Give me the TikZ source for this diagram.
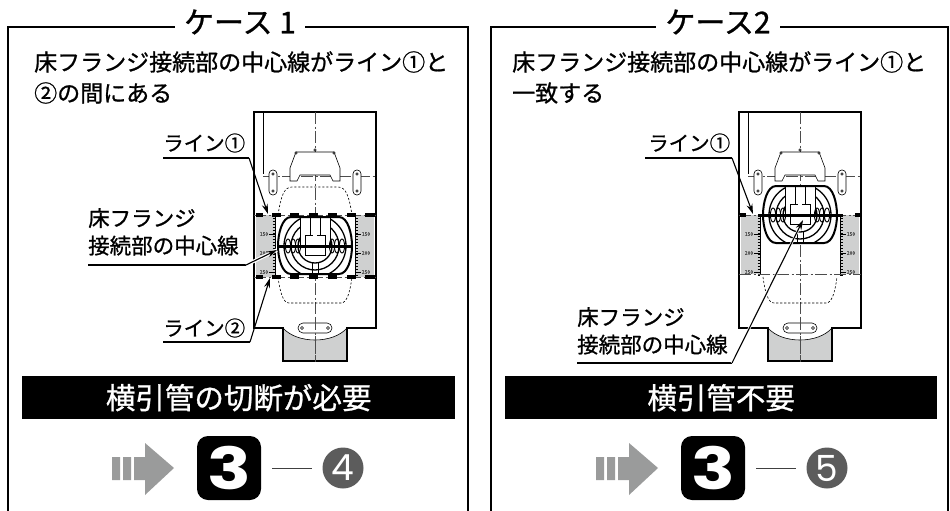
\documentclass[tikz,border=0pt]{standalone}
\usepackage{fontspec}
\setmainfont{Noto Sans CJK JP}[FakeBold=0.9]
\newfontfamily\numfont{Poppins}
\usetikzlibrary{arrows.meta}
\definecolor{bandgray}{HTML}{CFD0D0}
\definecolor{arrowgray}{HTML}{9A9B9B}
\definecolor{circgray}{HTML}{5C5C5C}
\newcommand{\fs}[1]{\fontsize{#1}{#1}\selectfont}
\tikzset{
  frameline/.style={line width=1.6pt,black},
  heading/.style={font=\fs{30},fill=white,inner xsep=9pt,inner ysep=0pt,anchor=center},
  bodytext/.style={font=\fs{23},anchor=west,inner sep=0pt},
  calltext/.style={font=\fs{20.5},anchor=west,inner sep=0pt,align=left},
  longtext/.style={font=\fs{21.5},anchor=north west,inner sep=0pt,align=left},
  leader/.style={line width=1.1pt,black,-{Stealth[length=10pt,width=6pt]}},
  underln/.style={line width=1.1pt,black},
  halo/.style={line width=3.5pt,white},
  barbox/.style={fill=black,text=white,font=\fs{29.5},minimum height=43pt,inner sep=0pt,anchor=north west},
  centerline/.style={line width=0.7pt,black!70,dash pattern=on 12pt off 2.5pt on 2pt off 2.5pt},
  wall/.style={line width=2pt,black},
  fine/.style={line width=0.6pt,black},
  scalelab/.style={font=\fs{5},text=black!70,inner sep=0pt,anchor=center},
  numbox/.style={fill=black,rounded corners=11pt,text=white,minimum width=64pt,minimum height=64pt,inner sep=0pt,anchor=center},
  numcirc/.style={circle,fill=circgray,text=white,minimum size=41pt,inner sep=0pt,anchor=center},
  flangeline/.style={line width=1.3pt,black},
}
\def\flangepath{(-37,0) .. controls (-37,-12) and (-33,-29) .. (-24,-29) -- (24,-29) .. controls (33,-29) and (37,-12) .. (37,0) .. controls (37,12) and (33,28) .. (24,28) -- (-24,28) .. controls (-33,28) and (-37,12) .. (-37,0) -- cycle}
% ---- body of the fixture, x offset from the left case
\newcommand{\fixture}[1]{%
 \begin{scope}[shift={(#1,0)}]
  \fill[bandgray] (256,215) rectangle (275,\bandbot);
  \fill[bandgray] (355,215) rectangle (374,\bandbot);
  \fill[bandgray] (283,328) .. controls (297,344) and (333,344) .. (347,328) -- (347,361) -- (283,361) -- cycle;
  \draw[wall] (283,328) -- (254,328) -- (254,112) -- (376,112) -- (376,328) -- (347,328) -- (347,361) -- (283,361) -- cycle;
  \draw[fine] (283,328) .. controls (297,344) and (333,344) .. (347,328);
  \draw[fine] (263,112) -- (263,174);
  \draw[centerline] (315,112) -- (315,362);
  \draw[centerline] (263,176) -- (376,176);
  % tank
  \draw[fine,fill=white] (290,181) -- (290,168) -- (296,152) -- (334,152) -- (340,168) -- (340,181) -- (333,181) -- (330,175) -- (300,175) -- (297,181) -- cycle;
  \foreach \cx/\cy in {296/153,334/153,315/150}{\draw[fine,fill=white] (\cx,\cy) circle[radius=1.2];}
  % slots
  \foreach \sx in {273,357}{
    \draw[fine,fill=white,rounded corners=3.8pt] (\sx-4,170) rectangle (\sx+4,195);
    \draw[fine] (\sx,174) circle[radius=1.3] (\sx,191) circle[radius=1.3];
  }
  % bottom slot
  \draw[fine,fill=white,rounded corners=5pt] (298,323) rectangle (332,333);
  \draw[fine] (302,328) circle[radius=1.5] (328,328) circle[radius=1.5];
  \draw[centerline] (315,318) -- (315,362);
  % dashed outline
  \draw[fine,dash pattern=on 2.2pt off 1.8pt] (278,215) .. controls (281,196) and (284,187) .. (292,187) -- (338,187) .. controls (346,187) and (349,196) .. (352,215);
  \draw[fine,dash pattern=on 2.2pt off 1.8pt] (278,277) .. controls (280,292) and (283,303) .. (289,303) -- (341,303) .. controls (347,303) and (350,292) .. (352,277);
  % rulers
  \draw[line width=0.8pt] (275,215) -- (275,\bandbot) (355,215) -- (355,\bandbot);
  \foreach \ty in {218,221,...,275}{
    \draw[line width=0.4pt] (272.5,\ty) -- (275,\ty) (355,\ty) -- (357.5,\ty);
  }
  \foreach \ty/\tl in {234/150,253/200,272/250}{
    \draw[fine] (269,\ty) -- (275,\ty) (355,\ty) -- (361,\ty);
    \node[scalelab,fill=bandgray] at (264,\ty) {\tl};
    \node[scalelab,fill=bandgray] at (366,\ty) {\tl};
  }
 \end{scope}}
% ---- flange
\newcommand{\flange}[2]{%
 \begin{scope}[shift={(#1,#2)}]
  \fill[white] \flangepath;
  \begin{scope}
   \clip \flangepath;
   \draw[flangeline] (0,0) circle[radius=31] (0,0) circle[radius=24] (0,0) circle[radius=17];
   \fill[white] (-15,-30) rectangle (15,0);
  \end{scope}
  \draw[line width=1pt] (-15,-29) -- (-15,0) (15,-29) -- (15,0);
  \draw[line width=1pt] (-5,-29) -- (-5,-11) (5,-29) -- (5,-11);
  \draw[line width=1pt] (-10,0) -- (-10,-11) -- (-2,-11) (2,-11) -- (10,-11) -- (10,0);
  \draw[line width=0.8pt,fill=white] (-10,0) rectangle (10,9);
  \draw[line width=1pt] (-3,17) -- (-3,28) (3,17) -- (3,28);
  \foreach \ex in {-27,-22,-17,17,22,27}{\draw[line width=0.9pt] (\ex,0) ellipse[x radius=2.6,y radius=7];}
  \draw[line width=2pt] \flangepath;
 \end{scope}}
\begin{document}
\begin{tikzpicture}[x=1pt,y=-1pt]
\useasboundingbox (0,0) rectangle (950,511);
\fill[white] (0,0) rectangle (950,511);
% ================ frames
\draw[frameline] (8,511) -- (8,27) -- (468,27) -- (468,511);
\draw[frameline] (491,511) -- (491,27) -- (948,27) -- (948,511);
\node[heading] (titleA) at (240,22) {ケース 1};
\node[heading] (titleB) at (718,22) {ケース2};
\node[bodytext] (bodyA1) at (34,62) {床フランジ接続部の中心線がライン①と};
\node[bodytext] (bodyA2) at (34,93) {②の間にある};
\node[bodytext] (bodyB1) at (512,62) {床フランジ接続部の中心線がライン①と};
\node[bodytext] (bodyB2) at (512,93) {一致する};
% ================ case 1 fixture
\def\bandbot{277}
\fixture{0}
\flange{315}{246}
\draw[centerline] (254,215) -- (376,215) (254,277) -- (376,277);
\foreach \ax/\bx in {256/263,272/281,290/299,309/318,328/337,347/356,365/375}{
  \draw[line width=3.4pt] (\ax,215) -- (\bx,215);
  \draw[line width=3.4pt] (\ax,277) -- (\bx,277);
}
\draw[line width=3pt] (277,246) -- (353,246);
% ================ case 2 fixture
\def\bandbot{274}
\fixture{485}
\flange{800}{215}
\draw[centerline,line width=1pt] (739,274) -- (861,274);
\draw[centerline] (739,215) -- (861,215);
\draw[line width=3.4pt] (740,215) -- (746,215) (855,215) -- (861,215);
\draw[line width=3pt] (758,215) -- (843,215);
% ================ call-outs, case 1
\node[calltext] (lineA1) at (163,143) {ライン①};
\coordinate (lineA1s) at (163,158);
\coordinate (lineA1k) at (249,158);
\coordinate (lineA1t) at (268,214);
\draw[underln] (lineA1s) -- (lineA1k);
\draw[leader] (lineA1k) -- (lineA1t);
\node[longtext] (flA) at (88,208) {床フランジ\\[6pt]接続部の中心線};
\coordinate (flAs) at (88,265);
\coordinate (flAk) at (246,265);
\coordinate (flAt) at (277,250);
\draw[underln] (flAs) -- (flAk);
\draw[halo] (flAk) -- (flAt);
\draw[leader] (flAk) -- (flAt);
\node[calltext] (lineA2) at (163,328) {ライン②};
\coordinate (lineA2s) at (163,342);
\coordinate (lineA2k) at (250,342);
\coordinate (lineA2t) at (270,278);
\draw[underln] (lineA2s) -- (lineA2k);
\draw[leader] (lineA2k) -- (lineA2t);
% ================ call-outs, case 2
\node[calltext] (lineB1) at (648,143) {ライン①};
\coordinate (lineB1s) at (645,158);
\coordinate (lineB1k) at (732,158);
\coordinate (lineB1t) at (753,214);
\draw[underln] (lineB1s) -- (lineB1k);
\draw[leader] (lineB1k) -- (lineB1t);
\node[longtext] (flB) at (577,307) {床フランジ\\[6pt]接続部の中心線};
\coordinate (flBs) at (577,363);
\coordinate (flBk) at (732,363);
\coordinate (flBt) at (803,220);
\draw[underln] (flBs) -- (flBk);
\draw[halo,line width=2.5pt] (flBk) -- (flBt);
\draw[leader] (flBk) -- (flBt);
% ================ bars
\node[barbox,minimum width=433pt] (barA) at (22,376) {横引管の切断が必要};
\node[barbox,minimum width=432pt] (barB) at (505,376) {横引管不要};
% ================ arrows and step numbers
\foreach \ox/\lab/\id in {0/4/A,484/5/B}{
 \begin{scope}[shift={(\ox,0)}]
  \fill[arrowgray] (112,457) rectangle (120,480) (123,457) rectangle (131,480);
  \fill[arrowgray] (134,457) -- (145,457) -- (145,443) -- (174,468) -- (145,495) -- (145,480) -- (134,480) -- cycle;
  \node[numbox] (box\id) at (229,468) {\numfont\fs{58}\scalebox{1.25}[1]{\bfseries 3}};
  \node[numcirc] (circ\id) at (343,468) {\numfont\fs{36}\lab};
  \draw[line width=1pt,black!75] (272,468) -- (312,468);
 \end{scope}
}
\end{tikzpicture}
\end{document}
